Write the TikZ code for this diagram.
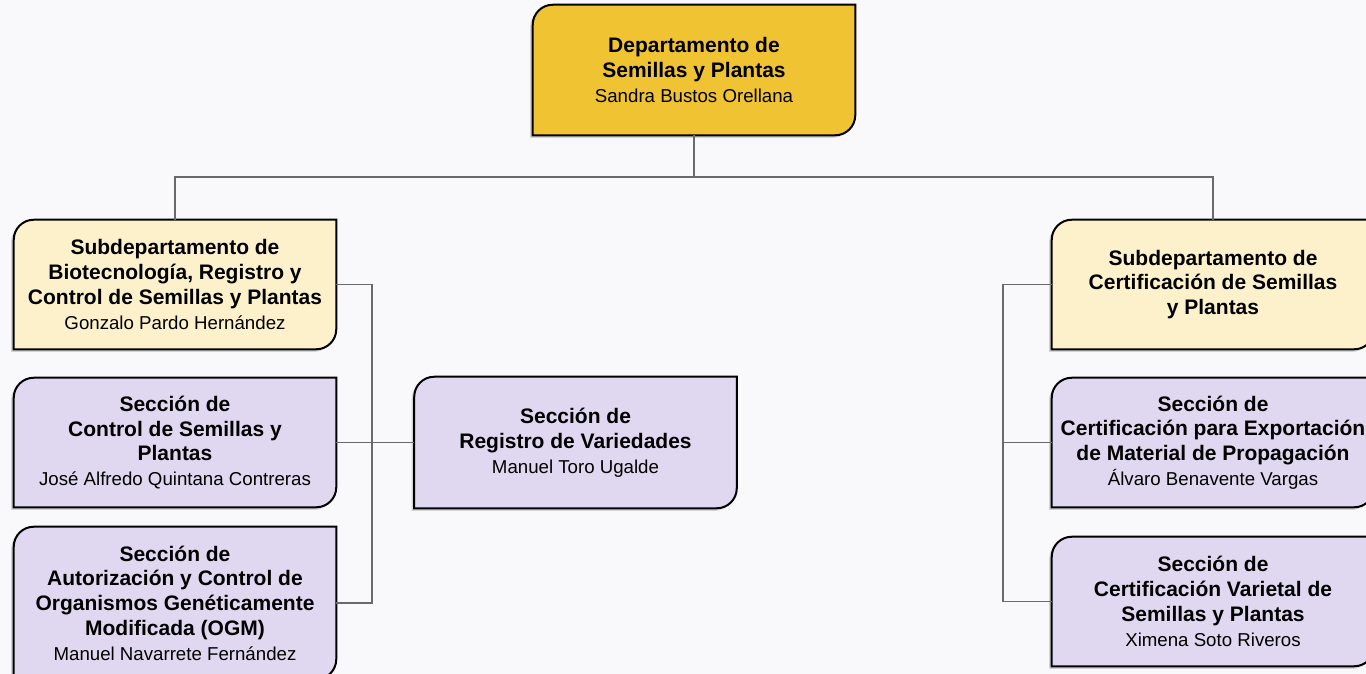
\documentclass[tikz,border=0pt]{standalone}
\usepackage{fontspec}
\setmainfont{Liberation Sans}
\usetikzlibrary{backgrounds}
\definecolor{gold}{HTML}{F0C332}
\definecolor{cream}{HTML}{FDF1CC}
\definecolor{lav}{HTML}{DFD8F0}
\definecolor{linegray}{HTML}{6A6A6A}
\definecolor{bgcol}{HTML}{F9F9FB}
\newcommand{\nm}{\mdseries\fontsize{14}{18.6}\selectfont}
\begin{document}
\begin{tikzpicture}[x=0.75pt,y=-0.75pt,
  box/.style={minimum width=241.5pt, minimum height=#1, inner sep=0pt,
    align=center, font=\bfseries\fontsize{15.75}{18.6}\selectfont},
  box/.default=96.75pt,
  boxline/.style={draw=black, line width=1.5pt,
    preaction={fill=black, opacity=0.15, transform canvas={xshift=-2pt,yshift=-2pt}}},
  conn/.style={draw=linegray, line width=1.1pt}]
\useasboundingbox (0,0) rectangle (1366,674);

\node[box=97.5pt] (top) at (694,70) {Departamento de\\Semillas y Plantas\\\nm Sandra Bustos Orellana};
\node[box] (subL) at (175,284.5) {Subdepartamento de\\Biotecnología, Registro y\\Control de Semillas y Plantas\\\nm Gonzalo Pardo Hernández};
\node[box] (ctrl) at (175,442.5) {Sección de\\Control de Semillas y\\Plantas\\\nm José Alfredo Quintana Contreras};
\node[box=114pt] (ogm) at (175,603) {Sección de\\Autorización y Control de\\Organismos Genéticamente\\Modificada (OGM)\\\nm Manuel Navarrete Fernández};
\node[box=98.25pt] (reg) at (575.5,442.5) {Sección de\\Registro de Variedades\\\nm Manuel Toro Ugalde};
\node[box] (subR) at (1213,284.5) {Subdepartamento de\\Certificación de Semillas\\y Plantas};
\node[box] (expo) at (1213,442.5) {Sección de\\Certificación para Exportación\\de Material de Propagación\\\nm Álvaro Benavente Vargas};
\node[box] (var) at (1213,601.5) {Sección de\\Certificación Varietal de\\Semillas y Plantas\\\nm Ximena Soto Riveros};

\coordinate (bus) at (694,177);
\coordinate (spL) at (372,0);
\coordinate (spR) at (1003,0);

\begin{scope}[on background layer]
  \fill[bgcol] (0,0) rectangle (1366,674);
  \foreach \n/\c in {top/gold,subL/cream,subR/cream,ctrl/lav,ogm/lav,reg/lav,expo/lav,var/lav}
    \draw[boxline, fill=\c] (\n.south west) -- ([yshift=-15pt]\n.north west)
      arc[start angle=180, end angle=90, radius=15pt] -- (\n.north east)
      -- ([yshift=15pt]\n.south east) arc[start angle=0, end angle=-90, radius=15pt] -- cycle;
\end{scope}

\draw[conn] (top.south) -- (bus);
\draw[conn] (subL.north) |- (bus) -| (subR.north);
\draw[conn] (subL.east) -| (spL |- ogm.east) -- (ogm.east);
\draw[conn] (ctrl.east) -- (reg.west);
\draw[conn] (subR.west) -| (spR |- var.west) -- (var.west);
\draw[conn] (expo.west) -- (spR |- expo.west);
\end{tikzpicture}
\end{document}
